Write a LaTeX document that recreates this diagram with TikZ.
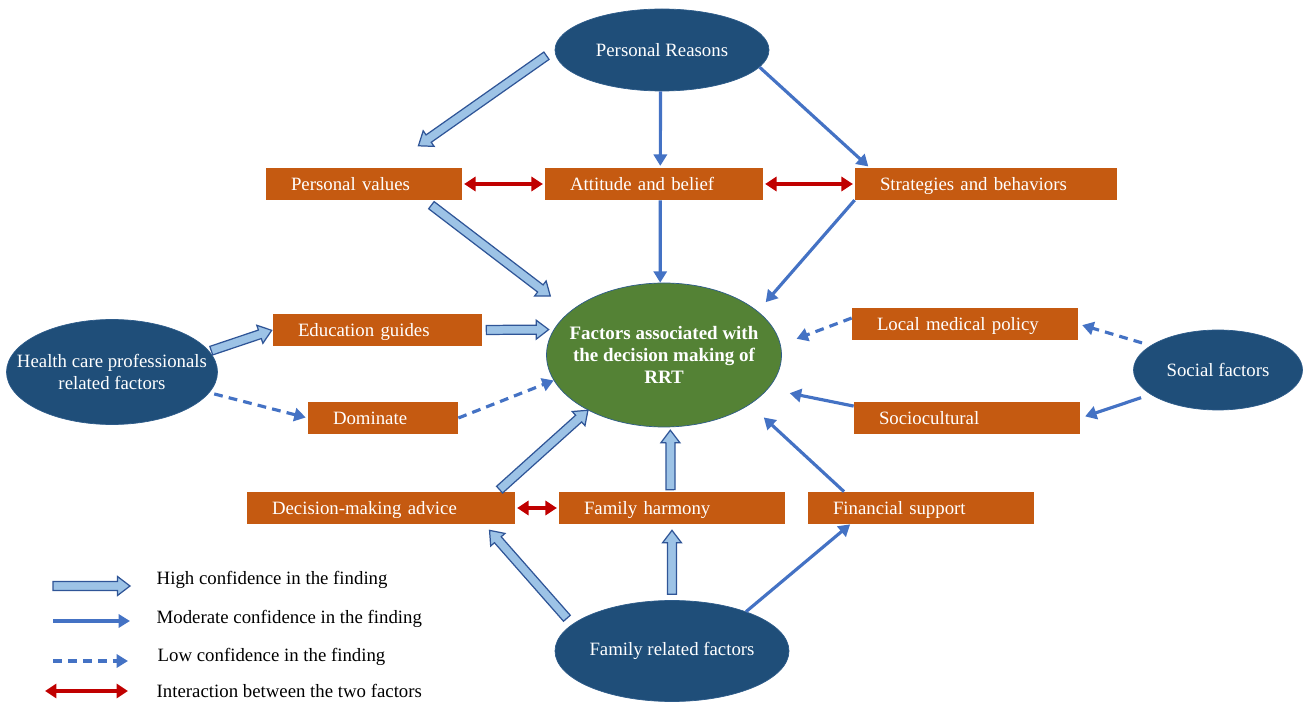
\documentclass[tikz,border=0pt]{standalone}
\usepackage{fontspec}
\setmainfont{Liberation Serif}
\usepackage{tikz}
\usetikzlibrary{shapes.geometric, arrows.meta, calc}

\definecolor{ellblue}{HTML}{1F4E79}
\definecolor{ellline}{HTML}{2E5C8A}
\definecolor{boxorange}{HTML}{C55A11}
\definecolor{hubgreen}{HTML}{548235}
\definecolor{hifill}{HTML}{9DC3E6}
\definecolor{hiline}{HTML}{2F5597}
\definecolor{modblue}{HTML}{4472C4}
\definecolor{linkred}{HTML}{C00000}

\begin{document}
\begin{tikzpicture}[font=\fontsize{10.7}{12.5}\selectfont,
        cause/.style 2 args={ellipse, draw=ellline, fill=ellblue, minimum width=#1, minimum height=#2, inner sep=0pt},
        factor/.style={rectangle, fill=boxorange, text=white, minimum height=0.64cm, text width=#1, align=left, inner xsep=0.5cm, inner ysep=0pt, text height=8.6pt, text depth=1pt},
        hiarrow/.style 2 args={draw=hiline, fill=hifill, line width=0.7pt,
            to path={let \p1=($(\tikztostart)!#1!(\tikztotarget)$),
                         \p2=($(\tikztotarget)!#2!(\tikztostart)$),
                         \p3=($(\p2)!0.25cm!(\p1)$) in
                ($(\p1)!0.09cm!90:(\p2)$) -- ($(\p3)!0.09cm!90:(\p2)$) -- ($(\p3)!0.19cm!90:(\p2)$)
                -- (\p2) -- ($(\p3)!0.19cm!-90:(\p2)$) -- ($(\p3)!0.09cm!-90:(\p2)$)
                -- ($(\p1)!0.09cm!-90:(\p2)$) -- cycle}},
        modarrow/.style={draw=modblue, line width=1.8pt, -{Triangle[width=7.5pt,length=6.5pt]}},
        lowarrow/.style={modarrow, dash pattern=on 5pt off 3.5pt},
        linkarrow/.style={draw=linkred, line width=1.8pt, {Triangle[width=8pt,length=6.5pt]}-{Triangle[width=8pt,length=6.5pt]}}]
                \useasboundingbox (0,0) rectangle (26.08,14.02);

                % causes
                \node[cause={4.28cm}{1.64cm}, label={[white]center:Personal Reasons}] (reasons) at (13.24,13.02) {};
                \node[cause={4.22cm}{2.1cm}, label={[white, align=center]center:{Health care professionals\\related factors}}] (hcp) at (2.24,6.58) {};
                \node[cause={3.38cm}{1.6cm}, label={[white]center:Social factors}] (social) at (24.36,6.62) {};
                \node[cause={4.68cm}{2.02cm}, label={[white]center:Family related factors}] (family) at (13.44,1.0) {};
                \node[ellipse, draw=ellline, fill=hubgreen, minimum width=4.7cm, minimum height=2.88cm, inner sep=0pt,
                    label={[white, align=center, font=\fontsize{10.8}{12.5}\selectfont\bfseries]center:{Factors associated with\\the decision making of\\RRT}}] (hub) at (13.28,6.92) {};

                % factors
                \node[factor=2.92cm] (pvalues) at (7.28,10.34) {Personal values};
                \node[factor=3.36cm] (attitude) at (13.08,10.34) {Attitude and belief};
                \node[factor=4.24cm] (strategies) at (19.72,10.34) {Strategies and behaviors};
                \node[factor=3.18cm] (educ) at (7.55,7.42) {Education guides};
                \node[factor=2.0cm] (dominate) at (7.66,5.66) {Dominate};
                \node[factor=3.52cm] (localpolicy) at (19.3,7.54) {Local medical policy};
                \node[factor=3.52cm] (socio) at (19.34,5.66) {Sociocultural};
                \node[factor=4.36cm] (advice) at (7.62,3.86) {Decision-making advice};
                \node[factor=3.52cm] (harmony) at (13.44,3.86) {Family harmony};
                \node[factor=3.52cm] (finance) at (18.42,3.86) {Financial support};

                % high confidence
                \draw[hiarrow={0.2cm}{0.76cm}] (reasons.west) to (pvalues.35);
                \draw[hiarrow={0.16cm}{0.5cm}] (pvalues.-15) to (hub.155);
                \draw[hiarrow={0.08cm}{0.1cm}] (educ.east) to (hub.167);
                \draw[hiarrow={0.04cm}{0.02cm}] (hcp.12) to (educ.west);
                \draw[hiarrow={0.06cm}{0cm}] (advice.8) to (hub.216);
                \draw[hiarrow={0.04cm}{0.06cm}] (harmony.95) to (hub.275);
                \draw[hiarrow={0.16cm}{0.16cm}] (family.165) to (advice.-9);
                \draw[hiarrow={0.12cm}{0.12cm}] (family.north) to (harmony.south);

                % moderate confidence
                \draw[modarrow, shorten >=1pt] (reasons.268) -- (attitude.69);
                \draw[modarrow, shorten >=1pt] (reasons.-10) -- (strategies.172);
                \draw[modarrow] (attitude.-69) -- (hub.93);
                \draw[modarrow, shorten >=0.24cm] (strategies.187) -- (hub.25);
                \draw[modarrow, shorten >=0.44cm] (socio.174) -- (hub.-18);
                \draw[modarrow, shorten >=0.38cm] (finance.168) -- (hub.-30);
                \draw[modarrow] (family.28) -- (finance.193);
                \draw[modarrow, shorten <=0.2cm, shorten >=0.1cm] (social.200) -- (socio.east);

                % low confidence
                \draw[lowarrow, shorten <=0.1cm, shorten >=0.04cm] (hcp.-12) -- (dominate.west);
                \draw[lowarrow] (dominate.east) -- (hub.193);
                \draw[lowarrow, shorten >=0.34cm] (localpolicy.177) -- (hub.5);
                \draw[lowarrow, shorten <=0.18cm, shorten >=0.08cm] (social.160) -- (localpolicy.east);

                % interaction
                \draw[linkarrow, shorten <=1pt, shorten >=1pt] (pvalues.east) -- (attitude.west);
                \draw[linkarrow, shorten <=1pt, shorten >=1pt] (attitude.east) -- (strategies.west);
                \draw[linkarrow, shorten <=1pt, shorten >=1pt] (advice.east) -- (harmony.west);

                % legend
                \coordinate (lhighA) at (1.06,2.3);
                \coordinate (lhighB) at (2.6,2.3);
                \coordinate (lmodA) at (1.06,1.6);
                \coordinate (lmodB) at (2.6,1.6);
                \coordinate (llowA) at (1.06,0.8);
                \coordinate (llowB) at (2.56,0.8);
                \coordinate (llinkA) at (0.9,0.2);
                \coordinate (llinkB) at (2.56,0.2);
                \node[anchor=west] (lhigh) at (3.01,2.42) {High confidence in the finding};
                \node[anchor=west] (lmod) at (3.01,1.64) {Moderate confidence in the finding};
                \node[anchor=west] (llow) at (3.03,0.88) {Low confidence in the finding};
                \node[anchor=west] (llink) at (3.01,0.2) {Interaction between the two factors};
                \draw[hiarrow={0cm}{0cm}] (lhighA) to (lhighB);
                \draw[modarrow] (lmodA) -- (lmodB);
                \draw[lowarrow] (llowA) -- (llowB);
                \draw[linkarrow] (llinkA) -- (llinkB);
            \end{tikzpicture}
\end{document}
